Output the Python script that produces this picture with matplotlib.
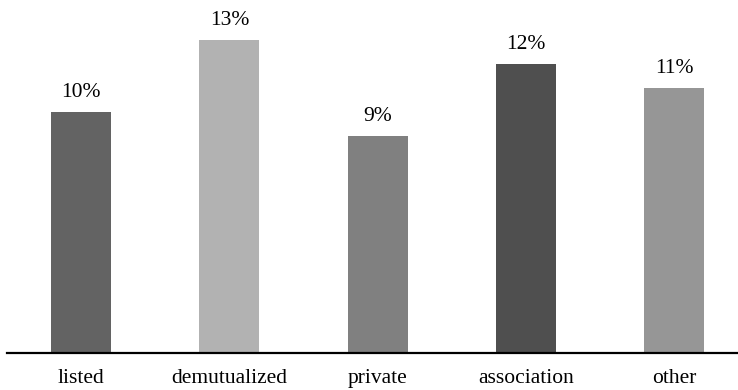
import matplotlib
matplotlib.use("Agg")
import matplotlib.pyplot as plt

categories = ["listed", "demutualized", "private", "association", "other"]
values = [10, 13, 9, 12, 11]
colors = ["#636363", "#b2b2b2", "#808080", "#4f4f4f", "#969696"]

plt.rcParams["font.family"] = ["Liberation Serif", "DejaVu Serif"]

fig = plt.figure(figsize=(7.38, 3.9), dpi=100)
ax = fig.add_axes([7 / 738, 37.5 / 390, 731 / 738, 352.5 / 390])

x = range(len(categories))
bars = ax.bar(x, values, width=0.405, color=colors)
for b, v in zip(bars, values):
    ax.annotate("%d%%" % v, (b.get_x() + b.get_width() / 2, v),
                xytext=(0, 14), textcoords="offset points",
                ha="center", va="center", fontsize=15.5)

ax.set_xlim(-0.5, -0.5 + 731 / 148.25)
ax.set_ylim(0, 352.5 / 24.05)
ax.set_xticks(list(x))
ax.set_xticklabels(categories, fontsize=15.5)
ax.tick_params(axis="x", length=0, pad=12)
ax.set_yticks([])
for s in ["top", "right", "left"]:
    ax.spines[s].set_visible(False)
ax.spines["bottom"].set_linewidth(1.6)

fig.savefig("out.png", dpi=100)
